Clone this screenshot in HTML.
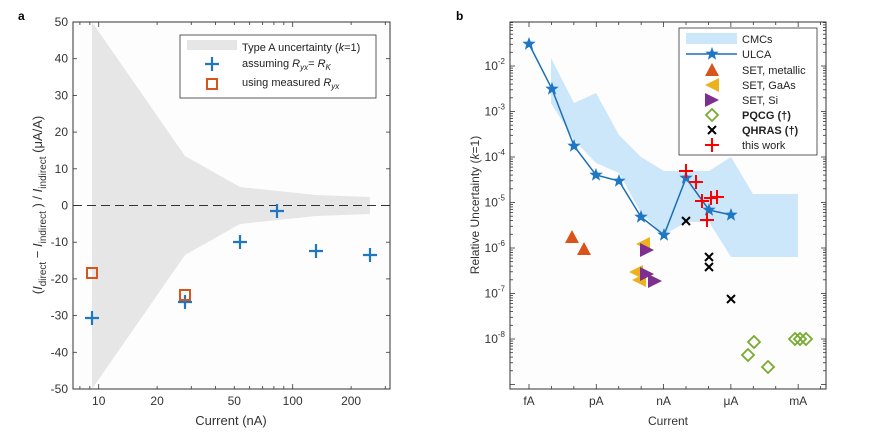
<!DOCTYPE html>
<html><head><meta charset="utf-8"><style>
body{margin:0;background:#fff;width:877px;height:435px;overflow:hidden}
svg{font-family:"Liberation Sans",sans-serif}
</style></head><body>
<svg id="s" width="877" height="435" viewBox="0 0 877 435">
<rect width="877" height="435" fill="#fff"/>
<rect x="73" y="22" width="317" height="367" fill="#fdfdfd"/>
<rect x="510" y="22" width="316" height="367" fill="#fdfdfd"/>
<polygon points="92,22 185,156 240,187 316,195 370,197 370,214 316,216 240,224 185,255 92,389" fill="#e6e6e6"/>
<line x1="73" y1="205.5" x2="390" y2="205.5" stroke="#333" stroke-width="0.9" stroke-dasharray="9,5"/>
<g id="ta"></g>
<rect x="73" y="22" width="317" height="367" fill="none" stroke="#333" stroke-width="1"/>
<g stroke="#1f77c4" stroke-width="2.2" fill="none">
<path d="M85,318h14M92,311v14"/><path d="M178,302h14M185,295v14"/><path d="M233,242h14M240,235v14"/>
<path d="M270,211h14M277,204v14"/><path d="M309,251h14M316,244v14"/><path d="M363,255h14M370,248v14"/>
</g>
<g stroke="#d9541a" stroke-width="2" fill="none">
<rect x="87" y="268" width="10" height="10"/><rect x="180" y="290" width="10" height="10"/>
</g>
<rect x="180" y="35" width="196" height="63" fill="#fff" stroke="#333" stroke-width="0.8"/>
<rect x="187" y="40" width="50" height="10" fill="#e6e6e6"/>
<g font-size="11" fill="#222">
<text x="242" y="51">Type A uncertainty (<tspan font-style="italic">k</tspan>=1)</text>
<text x="242" y="67">assuming <tspan font-style="italic">R</tspan><tspan font-style="italic" font-size="8" dy="3">yx</tspan><tspan dy="-3">= </tspan><tspan font-style="italic">R</tspan><tspan font-style="italic" font-size="8" dy="3">K</tspan></text>
<text x="242" y="86">using measured <tspan font-style="italic">R</tspan><tspan font-style="italic" font-size="8" dy="3">yx</tspan></text>
</g>
<path d="M205,64h14M212,57v14" stroke="#1f77c4" stroke-width="2.2"/>
<rect x="207" y="79" width="10" height="10" fill="none" stroke="#d9541a" stroke-width="2"/>
<text x="231" y="425" font-size="13" fill="#333" text-anchor="middle">Current (nA)</text>
<text transform="translate(42,205) rotate(-90)" font-size="13" fill="#333" text-anchor="middle">(<tspan font-style="italic">I</tspan><tspan font-size="10" dy="4">direct</tspan><tspan dy="-4"> − </tspan><tspan font-style="italic">I</tspan><tspan font-size="10" dy="4">indirect</tspan><tspan dy="-4"> ) / </tspan><tspan font-style="italic">I</tspan><tspan font-size="10" dy="4">indirect</tspan><tspan dy="-4">  (μA/A)</tspan></text>
<text x="18" y="20" font-size="12" font-weight="bold">a</text>
<text x="456" y="20" font-size="12" font-weight="bold">b</text>

<polygon points="551,58 574,103 596,93 619,135 641,157 664,171 709,171 731,157 753,194 798,194 798,257 731,257 709,222 686,222 664,235 641,213 619,173 596,163 574,140 551,103" fill="#cce6fa"/>
<g id="tb"></g>
<rect x="510" y="22" width="316" height="367" fill="none" stroke="#333" stroke-width="1"/>
<polyline points="529,44 552,89 574,146 596,175 619,181 641,217 664,235 686,178 709,210 731,215" fill="none" stroke="#1a6fb8" stroke-width="1.5"/>
<g id="stars" fill="#1f77c4"></g>
<g fill="#d9541a"><polygon points="572,230 579,243 565,243"/><polygon points="584,242 591,255 577,255"/></g>
<g fill="#edb120"><polygon points="636,244 650,237 650,251"/><polygon points="629,272 643,265 643,279"/><polygon points="632,280 646,273 646,287"/></g>
<g fill="#7e2f8e"><polygon points="654,250 640,243 640,257"/><polygon points="654,274 640,267 640,281"/><polygon points="662,281 648,274 648,288"/></g>
<g stroke="#f00" stroke-width="2"><path d="M679,171h14M686,164v14"/><path d="M689,182h14M696,175v14"/><path d="M695,201h14M702,194v14"/><path d="M704,198h14M711,191v14"/><path d="M710,197h14M717,190v14"/><path d="M700,220h14M707,213v14"/></g>
<g stroke="#000" stroke-width="2"><path d="M682,217l8,8M690,217l-8,8"/><path d="M705,253l8,8M713,253l-8,8"/><path d="M705,263l8,8M713,263l-8,8"/><path d="M727,295l8,8M735,295l-8,8"/></g>
<g fill="none" stroke="#77ac30" stroke-width="1.8" id="dia"></g>
<rect x="679" y="28" width="138" height="127" fill="#fff" stroke="#333" stroke-width="0.8"/>
<rect x="686" y="33" width="51" height="11" fill="#cce6fa"/>
<line x1="686" y1="54" x2="737" y2="54" stroke="#1a6fb8" stroke-width="1.5"/>
<g id="lstar" fill="#1f77c4"></g>
<polygon points="712,63 719,76 705,76" fill="#d9541a"/>
<polygon points="705,85 719,78 719,92" fill="#edb120"/>
<polygon points="719,100 705,93 705,107" fill="#7e2f8e"/>
<polygon points="712,109 718,115 712,121 706,115" fill="none" stroke="#77ac30" stroke-width="1.8"/>
<path d="M708,126l8,8M716,126l-8,8" stroke="#000" stroke-width="2"/>
<path d="M705,145h14M712,138v14" stroke="#f00" stroke-width="2"/>
<g font-size="11" fill="#222">
<text x="742" y="43">CMCs</text><text x="742" y="58">ULCA</text><text x="742" y="74">SET, metallic</text>
<text x="742" y="89">SET, GaAs</text><text x="742" y="104">SET, Si</text>
<text x="742" y="119" font-weight="bold">PQCG (†)</text><text x="742" y="134" font-weight="bold">QHRAS (†)</text><text x="742" y="149">this work</text>
</g>
<text x="668" y="425" font-size="12" fill="#333" text-anchor="middle">Current</text>
<text transform="translate(479,205) rotate(-90)" font-size="12" fill="#333" text-anchor="middle">Relative Uncertainty (<tspan font-style="italic">k</tspan>=1)</text>
</svg>
<script>
var NS="http://www.w3.org/2000/svg";
function el(p,t,a,txt){var e=document.createElementNS(NS,t);for(var k in a)e.setAttribute(k,a[k]);if(txt!=null)e.textContent=txt;p.appendChild(e);return e;}
var ta=document.getElementById('ta'),tb=document.getElementById('tb');
for(var v=-50;v<=50;v+=10){var y=22+(50-v)*3.67;
 el(ta,'line',{x1:73,x2:77,y1:y,y2:y,stroke:'#333','stroke-width':0.8});el(ta,'line',{x1:386,x2:390,y1:y,y2:y,stroke:'#333','stroke-width':0.8});
 el(ta,'text',{x:68,y:y+4,'font-size':12,fill:'#333','text-anchor':'end'},String(v));}
var xs=[8,9,10,20,30,40,50,60,70,80,90,100,200,300];
xs.forEach(function(v){var x=98.7+194*Math.log10(v/10);var L=[10,100].indexOf(v)>=0?5:3;
 el(ta,'line',{x1:x,x2:x,y1:389,y2:389-L,stroke:'#333','stroke-width':0.8});el(ta,'line',{x1:x,x2:x,y1:22,y2:22+L,stroke:'#333','stroke-width':0.8});
 if([10,20,50,100,200].indexOf(v)>=0)el(ta,'text',{x:x,y:405,'font-size':12,fill:'#333','text-anchor':'middle'},String(v));});
for(var d=-1;d>=-9;d--){var base=66+45.5*(-2-d);
 for(var m=1;m<10;m++){var y=base-45.5*Math.log10(m);if(y<22||y>389)continue;var L=m==1?5:3;
  el(tb,'line',{x1:510,x2:510+L,y1:y,y2:y,stroke:'#333','stroke-width':0.8});el(tb,'line',{x1:826-L,x2:826,y1:y,y2:y,stroke:'#333','stroke-width':0.8});}
 if(d<=-2&&d>=-8){var t=el(tb,'text',{x:505,y:base+4,'font-size':12,fill:'#333','text-anchor':'end'},'10');el(t,'tspan',{'font-size':8,dy:-6},String(d));}}
for(var i=-1;i<=13;i++){var x=529+22.43*i;if(x<510||x>826)continue;var L=i%3==0?5:3;
 el(tb,'line',{x1:x,x2:x,y1:389,y2:389-L,stroke:'#333','stroke-width':0.8});el(tb,'line',{x1:x,x2:x,y1:22,y2:22+L,stroke:'#333','stroke-width':0.8});}
['fA','pA','nA','μA','mA'].forEach(function(s,i){el(tb,'text',{x:529+67.3*i,y:405,'font-size':12,fill:'#333','text-anchor':'middle'},s);});
function star(cx,cy,r){var p=[];for(var i=0;i<10;i++){var a=-Math.PI/2+i*Math.PI/5,rr=i%2?r*0.42:r;p.push((cx+rr*Math.cos(a)).toFixed(1)+','+(cy+rr*Math.sin(a)).toFixed(1));}return p.join(' ');}
var S=document.getElementById('stars');
[[529,44],[552,89],[574,146],[596,175],[619,181],[641,217],[664,235],[686,178],[709,210],[731,215]].forEach(function(p){el(S,'polygon',{points:star(p[0],p[1],7)});});
el(document.getElementById('lstar'),'polygon',{points:star(712,54,7)});
var D=document.getElementById('dia');
[[748,355],[754,342],[768,367],[795,339],[800,339],[806,339]].forEach(function(p){el(D,'polygon',{points:p[0]+','+(p[1]-6)+' '+(p[0]+6)+','+p[1]+' '+p[0]+','+(p[1]+6)+' '+(p[0]-6)+','+p[1]});});
</script>
</body></html>
